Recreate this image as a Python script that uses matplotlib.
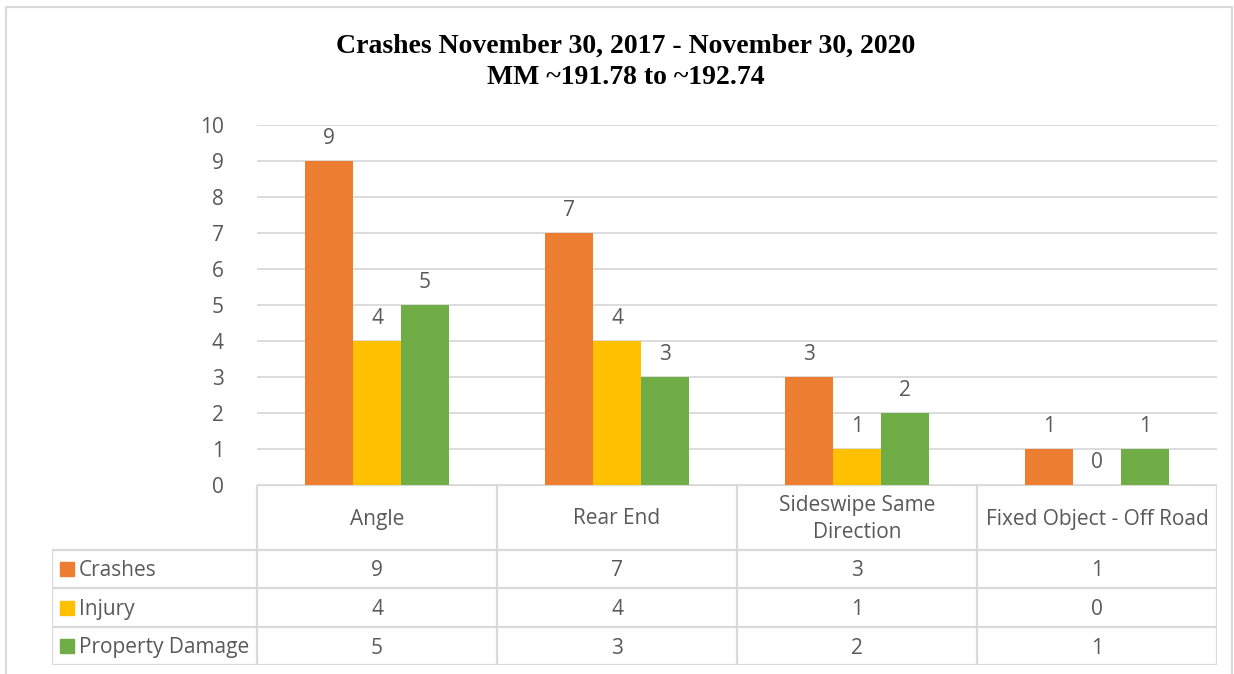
import matplotlib.pyplot as plt
from matplotlib.patches import Rectangle

categories = ['Angle', 'Rear End', 'Sideswipe Same\nDirection', 'Fixed Object - Off Road']
series = ['Crashes', 'Injury', 'Property Damage']
crashes = [9, 7, 3, 1]
injury = [4, 4, 1, 0]
damage = [5, 3, 2, 1]
colors = ['#ED7D31', '#FFC000', '#70AD47']
values = [crashes, injury, damage]

text_c = '#595959'
grid_c = '#D9D9D9'
font = 'Open Sans'
fs = 15

W, H = 1234, 674
fig = plt.figure(figsize=(W / 100, H / 100), dpi=100)

# outer chart border
fig.add_artist(Rectangle((6 / W, -0.01), 1226 / W, (H - 7) / H + 0.01,
                         transform=fig.transFigure, fill=False,
                         edgecolor=grid_c, lw=1.5))

fig.text(626 / W, 1 - 46 / H, 'Crashes November 30, 2017 - November 30, 2020',
         ha='center', va='center', family='Liberation Serif',
         weight='bold', size=20, color='black')
fig.text(626 / W, 1 - 77 / H, 'MM ~191.78 to ~192.74',
         ha='center', va='center', family='Liberation Serif',
         weight='bold', size=20, color='black')

# bar chart
ax = fig.add_axes([257 / W, (H - 485) / H, 960 / W, 360 / H])
bw = 0.2
for j, (name, vals) in enumerate(zip(series, values)):
    xs = [i + (j - 1) * bw for i in range(len(categories))]
    ax.bar(xs, vals, bw, color=colors[j], zorder=3)
    for x, v in zip(xs, vals):
        ax.annotate(str(v), (x, v), xytext=(0, 9), textcoords='offset points',
                    ha='center', va='bottom', family=font, size=fs, color=text_c)
ax.set_xlim(-0.5, len(categories) - 0.5)
ax.set_ylim(0, 10)
ax.set_yticks(range(11))
ax.grid(axis='y', color=grid_c, lw=1.3, zorder=0)
ax.set_xticks([])
for s in ax.spines.values():
    s.set_visible(False)
ax.tick_params(axis='y', length=0, pad=24, labelsize=fs, labelcolor=text_c)
for lab in ax.get_yticklabels():
    lab.set_family(font)

# data table
tx = fig.add_axes([52 / W, (H - 665) / H, (1217 - 52) / W, 180 / H])
left = -0.5 - 205 / 240
right = len(categories) - 0.5
tx.set_xlim(left, right)
tx.set_ylim(180, 0)
tx.axis('off')
rows = [0, 65, 103, 142, 180]
tc = dict(color=grid_c, lw=1.6, solid_capstyle='butt')
tx.plot([-0.5, right], [0, 0], **tc)
for y in rows[1:]:
    tx.plot([left, right], [y, y], **tc)
tx.plot([left, left], [rows[1], rows[-1]], **tc)
for i in range(len(categories) + 1):
    tx.plot([i - 0.5, i - 0.5], [0, 180], **tc)

for i, c in enumerate(categories):
    tx.text(i, 34, c, ha='center', va='center', family=font, size=fs,
            color=text_c, linespacing=1.35)
for j, (name, vals) in enumerate(zip(series, values)):
    yc = (rows[j + 1] + rows[j + 2]) / 2
    tx.add_patch(Rectangle((left + 8 / 240, yc - 7), 14 / 240, 14,
                           color=colors[j]))
    tx.text(left + 27 / 240, yc + 2, name, ha='left', va='center', family=font,
            size=fs, color=text_c)
    for i, v in enumerate(vals):
        tx.text(i, yc + 2, str(v), ha='center', va='center', family=font,
                size=fs, color=text_c)

fig.savefig('out.png', dpi=100)
